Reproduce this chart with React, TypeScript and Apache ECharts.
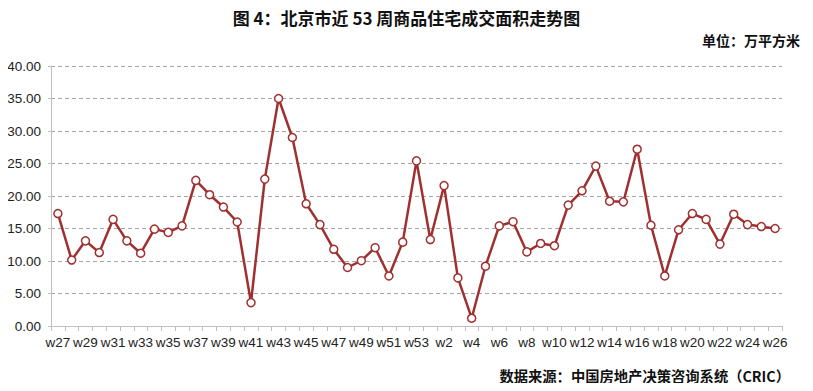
import React, { useEffect, useRef } from "react";
import * as echarts from "echarts";

const weeks: string[] = [
  "w27","w28","w29","w30","w31","w32","w33","w34","w35","w36","w37","w38","w39","w40",
  "w41","w42","w43","w44","w45","w46","w47","w48","w49","w50","w51","w52","w53",
  "w1","w2","w3","w4","w5","w6","w7","w8","w9","w10","w11","w12","w13","w14","w15",
  "w16","w17","w18","w19","w20","w21","w22","w23","w24","w25","w26",
];

const area: number[] = [
  17.3, 10.15, 13.1, 11.3, 16.4, 13.1, 11.2, 14.9, 14.4, 15.4, 22.4, 20.2, 18.3, 16.0,
  3.6, 22.6, 35.0, 29.0, 18.8, 15.6, 11.8, 9.0, 10.05, 12.05, 7.7, 12.9, 25.4,
  13.3, 21.6, 7.4, 1.2, 9.2, 15.4, 16.05, 11.4, 12.7, 12.35, 18.6, 20.8, 24.6, 19.2, 19.1,
  27.2, 15.5, 7.7, 14.8, 17.3, 16.4, 12.6, 17.2, 15.6, 15.3, 15.0,
];

const yTicks: number[] = [0, 5, 10, 15, 20, 25, 30, 35, 40];

const titleText = "图 4：北京市近 53 周商品住宅成交面积走势图";
const unitText = "单位：万平方米";
const sourceText = "数据来源：中国房地产决策咨询系统（CRIC）";

export default function App() {
  const ref = useRef<HTMLDivElement>(null);
  useEffect(() => {
    if (!ref.current) return;
    const chart = echarts.init(ref.current, undefined, { renderer: "svg" });
    const cjk = '"Noto Sans CJK SC", sans-serif';
    chart.setOption({
      animation: false,
      backgroundColor: "#ffffff",
      title: [
        {
          text: titleText,
          left: "center",
          top: 4,
          textStyle: { fontFamily: cjk, fontSize: 17, fontWeight: "bold", color: "#111" },
        },
        {
          text: unitText,
          right: 8,
          top: 28,
          textStyle: { fontFamily: cjk, fontSize: 14, fontWeight: "bold", color: "#111" },
        },
        {
          text: sourceText,
          right: 18,
          top: 363,
          textStyle: { fontFamily: cjk, fontSize: 14.3, fontWeight: "bold", color: "#111" },
        },
      ],
      grid: { left: 51, right: 31, top: 66, bottom: 65, containLabel: false },
      xAxis: {
        type: "category",
        data: weeks,
        boundaryGap: true,
        axisLine: { show: true, lineStyle: { color: "#bfbfbf", width: 1 } },
        axisTick: { show: true, alignWithLabel: false, interval: 0, length: 5, lineStyle: { color: "#bfbfbf" } },
        axisLabel: {
          interval: 1,
          margin: 9,
          fontFamily: '"Liberation Sans", Arial, sans-serif',
          fontSize: 13.5,
          color: "#222",
        },
      },
      yAxis: {
        type: "value",
        min: yTicks[0],
        max: yTicks[yTicks.length - 1],
        interval: 5,
        axisLine: { show: true, lineStyle: { color: "#bfbfbf", width: 1 } },
        axisTick: { show: true, length: 3, lineStyle: { color: "#bfbfbf" } },
        axisLabel: {
          formatter: (v: number) => v.toFixed(2),
          margin: 10,
          fontFamily: '"Liberation Sans", Arial, sans-serif',
          fontSize: 13.5,
          color: "#222",
        },
        splitLine: { show: true, lineStyle: { color: "#a6a6a6", type: [4, 3], width: 1 } },
      },
      series: [
        {
          type: "line",
          data: area,
          symbol: "circle",
          symbolSize: 8,
          showAllSymbol: true,
          lineStyle: { color: "#a0302f", width: 2.5 },
          itemStyle: { color: "#ffffff", borderColor: "#a0302f", borderWidth: 1.5 },
        },
      ],
    });
    return () => chart.dispose();
  }, []);
  return <div ref={ref} style={{ width: 813, height: 391, margin: -8 }} />;
}
